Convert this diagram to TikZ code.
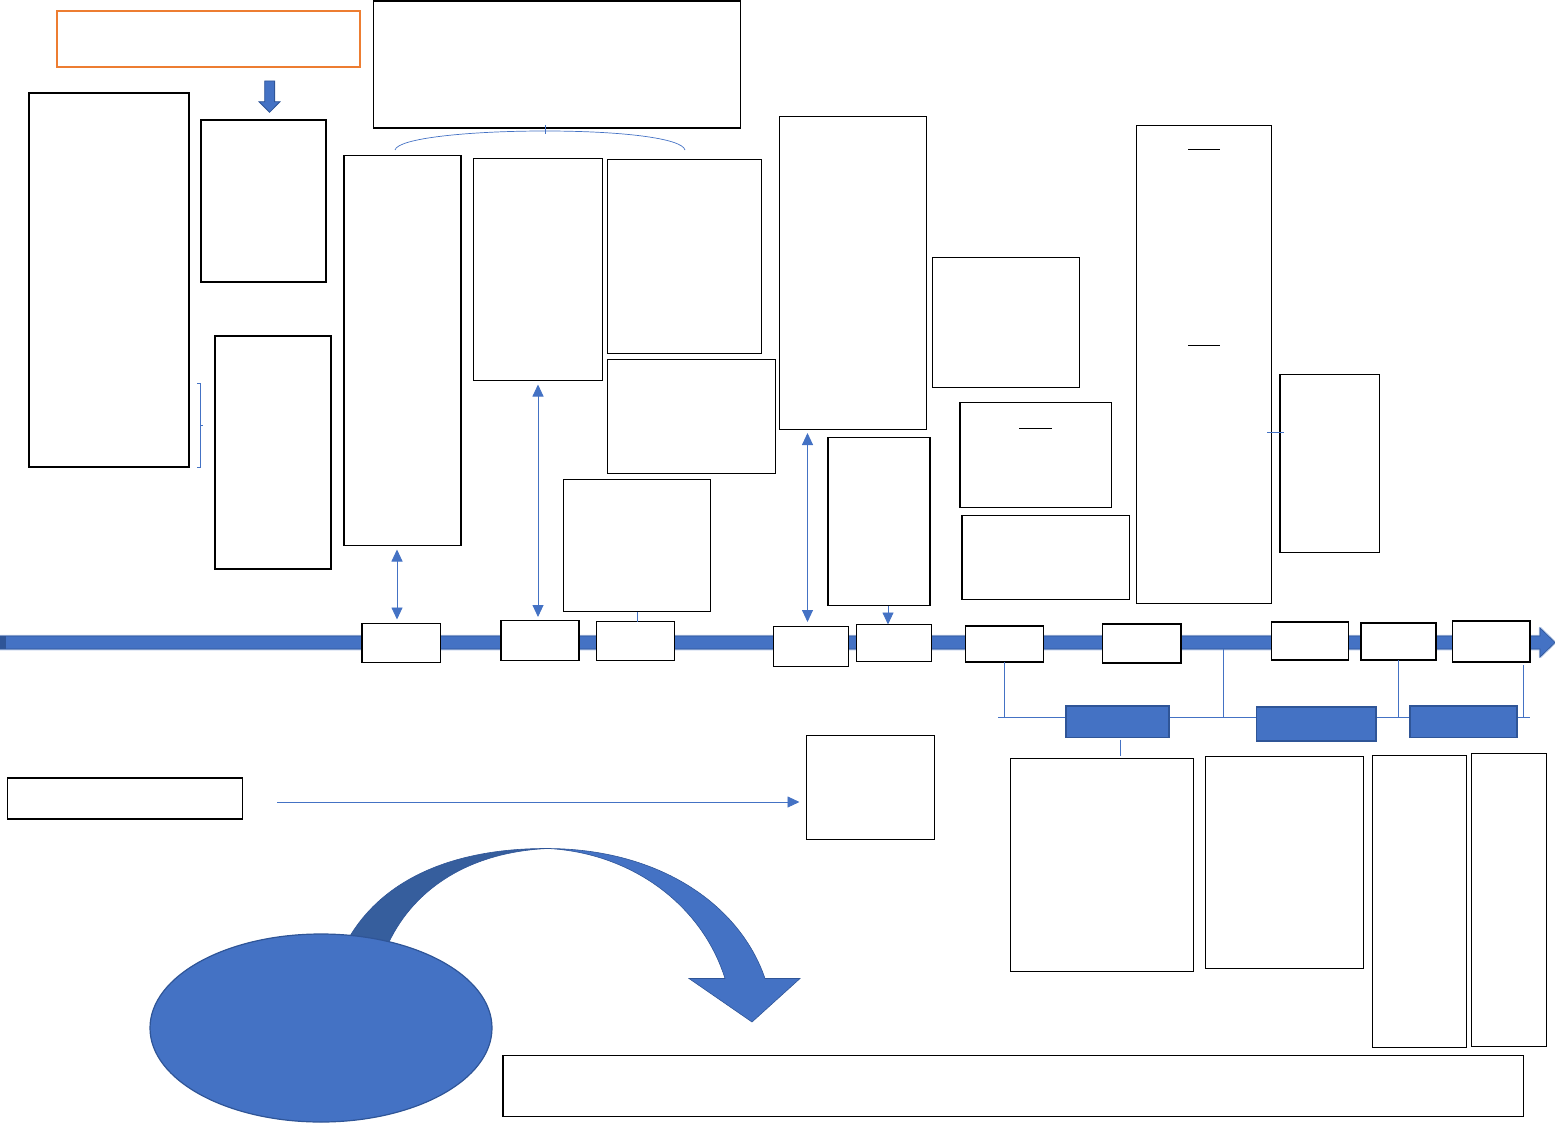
\documentclass[tikz,border=0pt]{standalone}
\usetikzlibrary{shapes.geometric,arrows.meta}
\definecolor{blueA}{HTML}{4472C4}
\definecolor{blueB}{HTML}{2F5597}
\definecolor{blueC}{HTML}{365E9D}
\definecolor{blueL}{HTML}{B4C7E7}
\definecolor{orangeA}{HTML}{ED7D31}
\tikzset{
  box/.style={draw, fill=white, line width=1.2pt, anchor=north west, inner sep=0pt, outer sep=0pt},
  bluebox/.style={box, fill=blueA, draw=blueB, line width=1.6pt},
  conn/.style={draw=blueA, line width=0.9pt},
  oneway/.style={conn, -{Triangle[width=11pt,length=12pt]}},
  twoway/.style={conn, {Triangle[width=11pt,length=12pt]}-{Triangle[width=11pt,length=12pt]}},
}
\begin{document}
\begin{tikzpicture}[x=1pt,y=-1pt]
    \useasboundingbox (0,0) rectangle (1555,1126);

    % timeline
    \draw[blueL, line width=2.5pt, line join=round] (0,636) -- (1540,636) -- (1540,628) -- (1555,642.5) -- (1540,657) -- (1540,649) -- (0,649);
    \filldraw[fill=blueA, draw=blueB, line width=0.6pt] (0,636) -- (1540,636) -- (1540,628) -- (1555,642.5) -- (1540,657) -- (1540,649) -- (0,649) -- cycle;
    \fill[blueB] (0,636) rectangle (6,649);
    \coordinate (tap) at (1223.5,649);

    % upper boxes
    \node[box, draw=orangeA, line width=2pt, minimum width=303pt, minimum height=56pt] (head) at (57,11) {};
    \filldraw[fill=blueA, draw=blueB, line width=0.8pt] (264.7,81) -- (274.6,81) -- (274.6,101.7) -- (280,101.7) -- (269.6,112.3) -- (259,101.7) -- (264.7,101.7) -- cycle;
    \node[box, minimum width=367pt, minimum height=127pt] (top) at (373.5,1) {};
    \node[box, minimum width=160pt, minimum height=374pt] (colA) at (29,93) {};
    \node[box, minimum width=125pt, minimum height=162pt] (colB) at (201,120) {};
    \node[box, minimum width=116pt, minimum height=233pt] (colC) at (215,336) {};
    \node[box, minimum width=117pt, minimum height=390pt] (colE) at (344,155.5) {};
    \node[box, minimum width=129pt, minimum height=222pt] (colF) at (473.5,158.5) {};
    \node[box, minimum width=154pt, minimum height=194pt] (colG) at (607.5,159.5) {};
    \node[box, minimum width=168pt, minimum height=114pt] (colH) at (607.5,359.5) {};
    \node[box, minimum width=147pt, minimum height=132pt] (colI) at (563.5,479.5) {};
    \node[box, minimum width=147pt, minimum height=313pt] (colJ) at (779.5,116.5) {};
    \node[box, minimum width=102pt, minimum height=168pt] (colK) at (828,437.5) {};
    \node[box, minimum width=147pt, minimum height=130pt] (colL) at (932.5,257.5) {};
    \node[box, minimum width=151.5pt, minimum height=105pt] (colM) at (960,402.5) {};
    \node[box, minimum width=167.5pt, minimum height=84pt] (colN) at (962,515.5) {};
    \node[box, minimum width=135pt, minimum height=478pt] (colO) at (1136.5,125.5) {};
    \node[box, minimum width=99.5pt, minimum height=178pt] (colP) at (1280,374.5) {};
    \draw[line width=1pt] (1019,428) -- (1052,428);
    \draw[line width=1pt] (1188,150) -- (1220,150);
    \draw[line width=1pt] (1188,345) -- (1220,345);

    % brace and bracket
    \draw[conn, line width=0.7pt] (395,150) .. controls (398,138) and (470,131) .. (545,131) .. controls (620,131) and (682,138) .. (685,150);
    \draw[conn, line width=0.7pt] (545,125) -- (545,134);
    \draw[conn, line width=0.7pt] (197,383) -- (200,383) -- (200,467) -- (197,467);
    \draw[conn, line width=0.7pt] (200,425) -- (203,425);
    \draw[conn, line width=0.7pt] (1267,432.5) -- (1284,432.5);

    % boxes on the timeline
    \node[box, minimum width=78.5pt, minimum height=39pt] (t1) at (362,623.5) {};
    \node[box, minimum width=78pt, minimum height=40pt] (t2) at (501,620.5) {};
    \node[box, minimum width=78pt, minimum height=39pt] (t3) at (596.5,621.5) {};
    \node[box, minimum width=75pt, minimum height=40pt] (t4) at (773.5,626.5) {};
    \node[box, minimum width=75pt, minimum height=37pt] (t5) at (856.5,624.5) {};
    \node[box, minimum width=78pt, minimum height=36pt] (t6) at (965.5,626) {};
    \node[box, minimum width=78.5pt, minimum height=39pt] (t7) at (1102.5,624) {};
    \node[box, minimum width=77pt, minimum height=38pt] (t8) at (1271.5,622) {};
    \node[box, minimum width=75pt, minimum height=37pt] (t9) at (1361,623) {};
    \node[box, minimum width=77.5pt, minimum height=41pt] (t10) at (1452.5,621) {};

    \draw[twoway, shorten <=4pt, shorten >=4pt] ([xshift=-5.5pt]colE.south) -- ([xshift=-5.5pt]colE.south |- t1.north);
    \draw[twoway, shorten <=4pt, shorten >=3.5pt] (colF.south) -- (colF.south |- t2.north);
    \draw[conn] (colI.south) -- (colI.south |- t3.north);
    \draw[twoway, shorten <=3.5pt, shorten >=4.5pt] ([xshift=-3.5pt]t4.north |- colJ.south) -- ([xshift=-3.5pt]t4.north);
    \draw[oneway] ([xshift=9pt]colK.south) -- ([xshift=9pt]colK.south |- t5.north);

    % lower branch
    \coordinate (busL) at (998,717);
    \coordinate (busR) at (1530,717);
    \draw[conn] (busL) -- (busR);
    \draw[conn] (t6.south) -- (t6.south |- busL);
    \draw[conn] (tap) -- (tap |- busL);
    \draw[conn] (t9.south) -- (t9.south |- busL);
    \draw[conn] ([xshift=-7pt]t10.south east) ++(0,3) -- ([xshift=-7pt]t10.south east |- busL);
    \node[bluebox, minimum width=103pt, minimum height=31.5pt] (q1) at (1066,706) {};
    \node[bluebox, minimum width=119.5pt, minimum height=34pt] (q2) at (1256.5,707) {};
    \node[bluebox, minimum width=107pt, minimum height=31.5pt] (q3) at (1410,706) {};
    \node[box, minimum width=183pt, minimum height=213pt] (r1) at (1010.5,758.5) {};
    \node[box, minimum width=158pt, minimum height=212pt] (r2) at (1205.5,756.5) {};
    \node[box, minimum width=94pt, minimum height=292pt] (r3) at (1372.5,755.5) {};
    \node[box, minimum width=75pt, minimum height=293pt] (r4) at (1471.5,753.5) {};
    \draw[conn, shorten <=2pt, shorten >=3pt] ([xshift=3pt]q1.south) -- ([xshift=3pt]q1.south |- r1.north);

    % bottom left
    \node[box, minimum width=235pt, minimum height=41pt] (side) at (7.5,778) {};
    \node[box, minimum width=128pt, minimum height=104pt] (goal) at (806.5,735.5) {};
    \draw[oneway, shorten <=34.5pt, shorten >=7pt] ([yshift=-3.5pt]side.east) -- ([yshift=-3.5pt]side.east -| goal.west);

    \filldraw[fill=blueC, draw=blueB, line width=0.6pt] (350,936) .. controls (385,878) and (455,848) .. (548,848.5) .. controls (470,852) and (415,888) .. (389,942) -- cycle;
    \filldraw[fill=blueA, draw=blueB, line width=0.6pt] (548,848.5) .. controls (660,849) and (740,905) .. (765,978.5) -- (800,978.5) -- (752,1022) -- (689,978.5) -- (725,978.5) .. controls (702,905) and (632,853) .. (548,848.5) -- cycle;
    \node[ellipse, draw=blueB, fill=blueA, line width=1.2pt, inner sep=0pt, minimum width=342pt, minimum height=188pt] (blob) at (321,1028) {};

    \node[box, minimum width=1020.5pt, minimum height=61pt] (foot) at (503,1055.5) {};
\end{tikzpicture}
\end{document}
